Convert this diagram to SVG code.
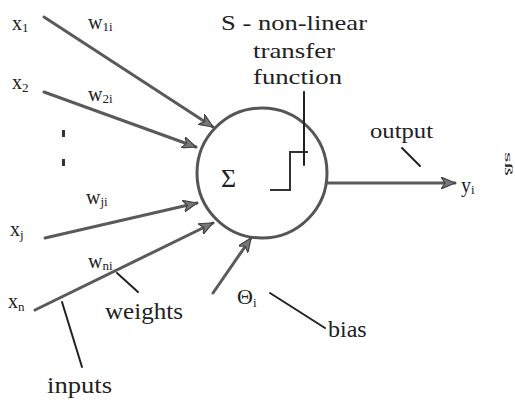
<svg xmlns="http://www.w3.org/2000/svg" width="515" height="400" viewBox="0 0 515 400">
<defs>
<style>
text{font-family:"Liberation Serif","Times New Roman",serif;fill:#222}
.lbl{font-size:20px}
.big{font-size:22px}
.sub{font-size:13px}
.conn{stroke:#5a5a5a;stroke-width:3;fill:none;stroke-linecap:round}
.ptr{stroke:#222;stroke-width:2;fill:none;stroke-linecap:round}
</style>
<marker id="ah" markerUnits="userSpaceOnUse" markerWidth="16" markerHeight="12" refX="14" refY="6" orient="auto">
<path d="M0,0 L14,6 L0,12 L4,6 z" fill="#777" stroke="#444" stroke-width="1.2"/>
</marker>
</defs>
<rect width="515" height="400" fill="#fff"/>

<g id="neuron">
<circle cx="262" cy="173" r="65" fill="none" stroke="#555" stroke-width="3"/>
<text x="221" y="187" style="font-size:26px">Σ</text>
<path d="M270,190 H290 V152 H308" fill="none" stroke="#333" stroke-width="2"/>
</g>

<g id="transfer-label">
<text x="221" y="30" class="big" textLength="146" lengthAdjust="spacingAndGlyphs">S - non-linear</text>
<text x="253" y="58" class="big" textLength="82" lengthAdjust="spacingAndGlyphs">transfer</text>
<text x="253" y="84" class="big" textLength="89" lengthAdjust="spacingAndGlyphs">function</text>
</g>

<g id="inputs-nodes">
<g id="x1"><text x="12" y="30" class="lbl">x<tspan class="sub" dy="2">1</tspan></text></g>
<g id="x2"><text x="12" y="89" class="lbl">x<tspan class="sub" dy="3">2</tspan></text></g>
<g id="dots"><rect x="62" y="130" width="3" height="7" fill="#333"/><rect x="62" y="159" width="3" height="7" fill="#333"/></g>
<g id="xj"><text x="10" y="236" class="lbl">x<tspan class="sub" dy="3">j</tspan></text></g>
<g id="xn"><text x="8" y="308" class="lbl">x<tspan class="sub" dy="3">n</tspan></text></g>
</g>

<g id="weights-labels">
<text x="88" y="29" class="lbl">w<tspan class="sub" dy="2">1i</tspan></text>
<text x="88" y="101" class="lbl">w<tspan class="sub" dy="2">2i</tspan></text>
<text x="86" y="204" class="lbl">w<tspan class="sub" dy="2">ji</tspan></text>
<text x="88" y="268" class="lbl">w<tspan class="sub" dy="2">ni</tspan></text>
<text x="105" y="319" style="font-size:23px" textLength="78" lengthAdjust="spacingAndGlyphs">weights</text>
</g>

<g id="other-labels">
<text x="47" y="393" style="font-size:23px" textLength="65" lengthAdjust="spacingAndGlyphs">inputs</text>
<text x="237" y="304" class="big">Θ<tspan class="sub" dy="3">i</tspan></text>
<text x="328" y="337" style="font-size:24px">bias</text>
<text x="370" y="138" style="font-size:20px" textLength="63" lengthAdjust="spacingAndGlyphs">output</text>
<text x="461" y="192" class="lbl">y<tspan class="sub" dy="2">i</tspan></text>
<text x="0" y="0" transform="translate(505,152) rotate(90)" style="font-size:11px" textLength="24" lengthAdjust="spacingAndGlyphs">sß</text>
</g>

<g id="connectors">
<line class="conn" x1="44" y1="17" x2="213" y2="127" marker-end="url(#ah)"/>
<line class="conn" x1="44" y1="92" x2="196" y2="147" marker-end="url(#ah)"/>
<line class="conn" x1="45" y1="238" x2="197" y2="203" marker-end="url(#ah)"/>
<line class="conn" x1="35" y1="310" x2="213" y2="223" marker-end="url(#ah)"/>
<line class="conn" x1="213" y1="293" x2="251" y2="238" marker-end="url(#ah)"/>
<line class="conn" x1="328" y1="183" x2="455" y2="183" marker-end="url(#ah)"/>
<line class="ptr" x1="304" y1="92" x2="304" y2="165"/>
<line class="ptr" x1="402" y1="148" x2="420" y2="166"/>
<line class="ptr" x1="117" y1="273" x2="138" y2="292"/>
<line class="ptr" x1="62" y1="302" x2="82" y2="367"/>
<line class="ptr" x1="270" y1="293" x2="325" y2="328"/>
</g>
</svg>
